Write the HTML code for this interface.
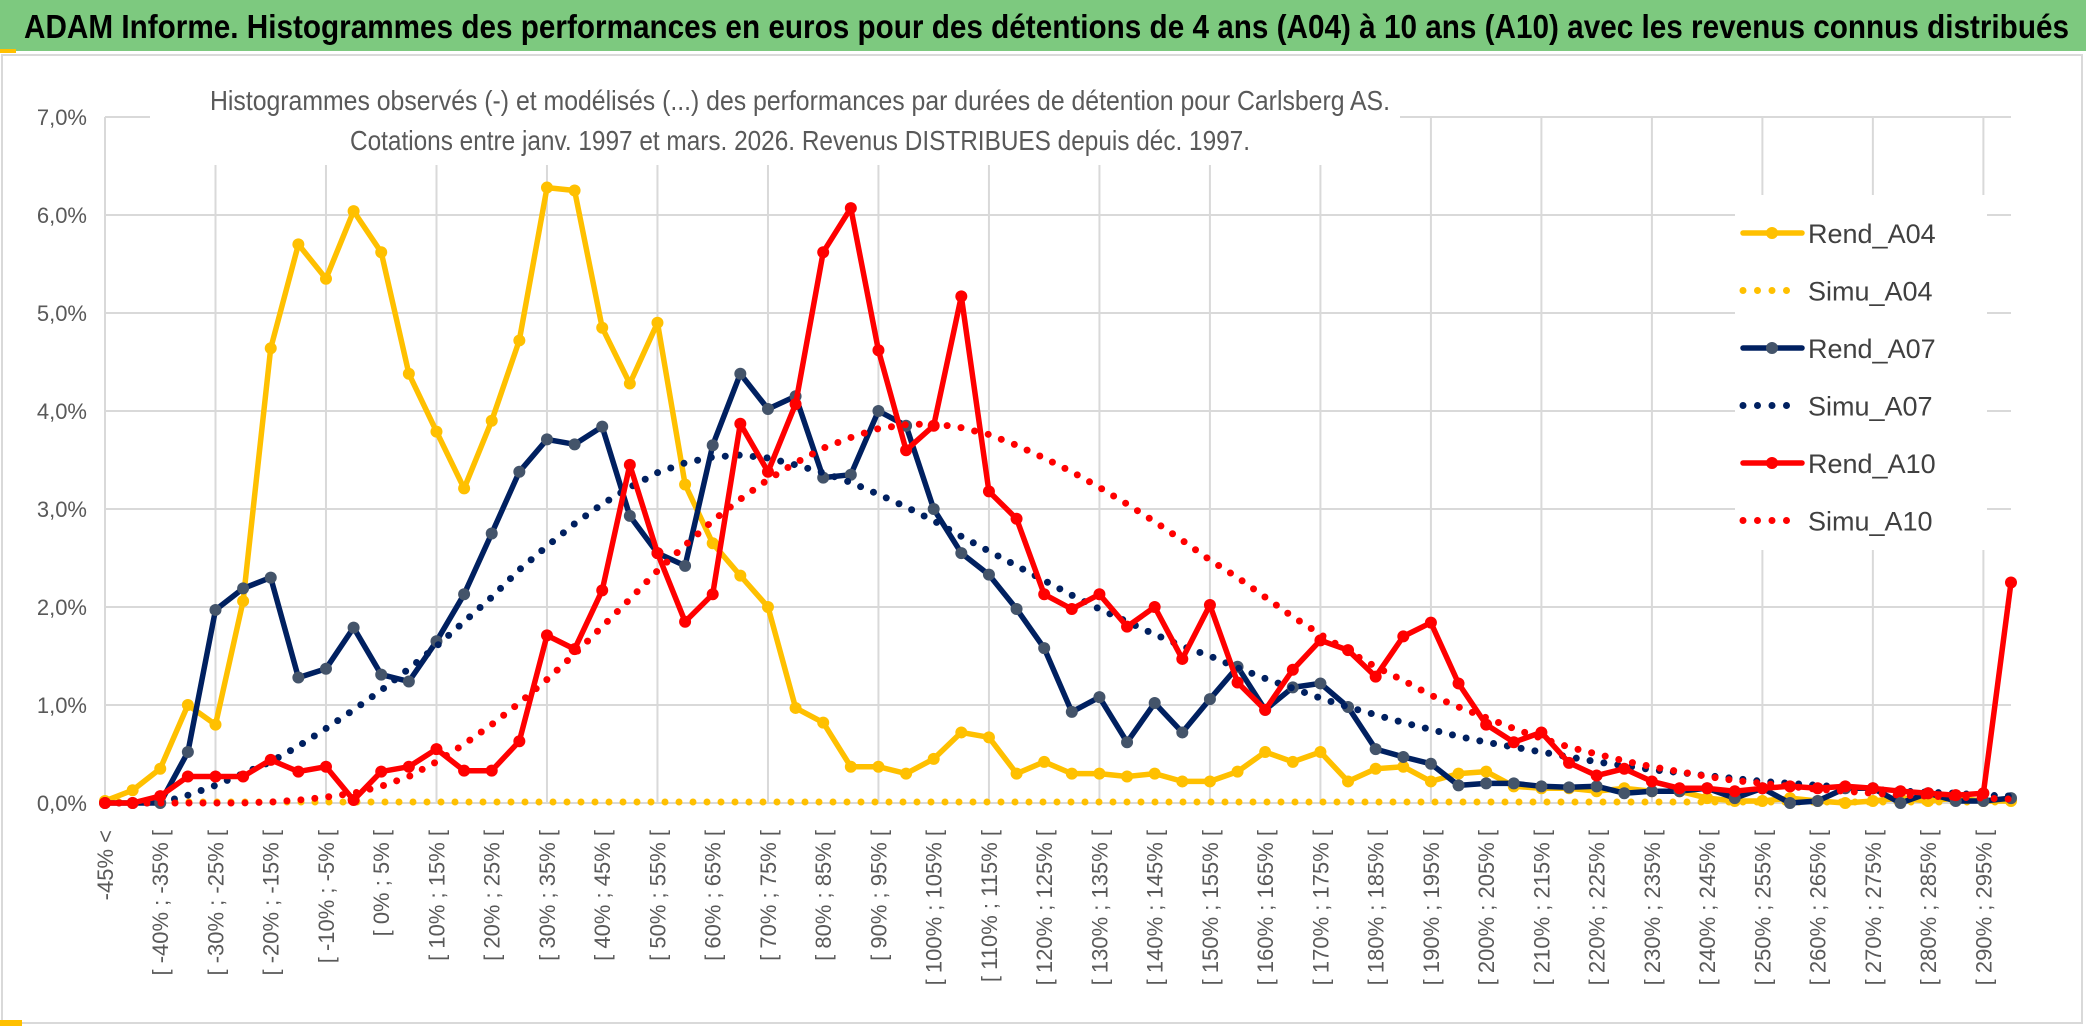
<!DOCTYPE html>
<html><head><meta charset="utf-8"><style>
html,body{margin:0;padding:0;background:#fff;}
svg{display:block;font-family:"Liberation Sans",sans-serif;}
</style></head><body>
<svg id="chart" width="2086" height="1031" viewBox="0 0 2086 1031" xmlns="http://www.w3.org/2000/svg">
<rect x="0" y="0" width="2086" height="1031" fill="#fff"/>
<rect x="0" y="0" width="2086" height="51" fill="#7dc97f"/>
<rect x="0" y="49" width="16" height="4" fill="#ffc000"/>
<text x="24" y="38" font-size="33" font-weight="bold" fill="#000" textLength="2045" lengthAdjust="spacingAndGlyphs">ADAM Informe. Histogrammes des performances en euros pour des détentions de 4 ans (A04) à 10 ans (A10) avec les revenus connus distribués</text>
<rect x="2" y="55" width="2080" height="968" fill="none" stroke="#d9d9d9" stroke-width="2"/>
<rect x="0" y="1020" width="22" height="6" fill="#ffc000"/>
<g id="grid"></g>
<g id="ylabels"></g>
<g id="xlabels"></g>
<rect x="150" y="75" width="1250" height="90" fill="#fff"/>
<text x="800" y="110" font-size="28" fill="#595959" text-anchor="middle" textLength="1180" lengthAdjust="spacingAndGlyphs">Histogrammes observés (-) et modélisés (...) des performances par durées de détention pour Carlsberg AS.</text>
<text x="800" y="150" font-size="28" fill="#595959" text-anchor="middle" textLength="900" lengthAdjust="spacingAndGlyphs">Cotations entre janv. 1997 et mars. 2026. Revenus DISTRIBUES depuis déc. 1997.</text>
<rect x="1735" y="195" width="252" height="355" fill="#fff"/>
<g id="series"></g>
<g id="legend"></g>
</svg>
<script>
const categories = (function(){const a=["-45% <"];for(let k=1;k<70;k++){const lo=-45+5*(k-1);a.push("[ "+lo+"% ; "+(lo+5)+"% [");}return a;})();
const yTicks = [0,1,2,3,4,5,6,7];
const yTickLabels = ["0,0%","1,0%","2,0%","3,0%","4,0%","5,0%","6,0%","7,0%"];
const rendA04 = [0.02,0.13,0.35,1.0,0.8,2.06,4.64,5.7,5.35,6.04,5.62,4.38,3.79,3.21,3.9,4.72,6.28,6.25,4.85,4.28,4.9,3.25,2.65,2.32,2.0,0.97,0.82,0.37,0.37,0.3,0.45,0.72,0.67,0.3,0.42,0.3,0.3,0.27,0.3,0.22,0.22,0.32,0.52,0.42,0.52,0.22,0.35,0.37,0.22,0.3,0.32,0.17,0.15,0.15,0.12,0.15,0.12,0.12,0.05,0.02,0.02,0.05,0.02,0.0,0.02,0.05,0.02,0.05,0.02,0.02];
const simuA04 = [0.01,0.01,0.01,0.01,0.01,0.01,0.01,0.01,0.01,0.01,0.01,0.01,0.01,0.01,0.01,0.01,0.01,0.01,0.01,0.01,0.01,0.01,0.01,0.01,0.01,0.01,0.01,0.01,0.01,0.01,0.01,0.01,0.01,0.01,0.01,0.01,0.01,0.01,0.01,0.01,0.01,0.01,0.01,0.01,0.01,0.01,0.01,0.01,0.01,0.01,0.01,0.01,0.01,0.01,0.01,0.01,0.01,0.01,0.01,0.01,0.01,0.01,0.01,0.01,0.01,0.01,0.01,0.01,0.01,0.01];
const rendA07 = [0,0,0.0,0.52,1.97,2.19,2.3,1.28,1.37,1.79,1.31,1.24,1.65,2.13,2.75,3.38,3.71,3.66,3.84,2.93,2.55,2.42,3.65,4.38,4.02,4.15,3.32,3.35,4.0,3.85,3.0,2.55,2.33,1.98,1.58,0.93,1.08,0.62,1.02,0.72,1.06,1.39,0.95,1.18,1.22,0.98,0.55,0.47,0.4,0.18,0.2,0.2,0.17,0.16,0.17,0.1,0.12,0.12,0.15,0.05,0.15,0.0,0.02,0.15,0.15,0.0,0.1,0.02,0.02,0.05];
const simuA07 = [0,0,0,0.08,0.18,0.3,0.42,0.58,0.76,0.95,1.15,1.37,1.6,1.85,2.1,2.38,2.62,2.85,3.05,3.22,3.37,3.47,3.53,3.55,3.52,3.45,3.37,3.27,3.15,3.02,2.88,2.72,2.57,2.42,2.27,2.12,1.98,1.85,1.72,1.6,1.5,1.38,1.27,1.17,1.07,0.98,0.9,0.82,0.75,0.68,0.62,0.57,0.52,0.47,0.42,0.38,0.34,0.31,0.28,0.25,0.22,0.2,0.18,0.16,0.14,0.12,0.11,0.1,0.08,0.07];
const rendA10 = [0,0,0.07,0.27,0.27,0.27,0.44,0.32,0.37,0.03,0.32,0.37,0.55,0.33,0.33,0.63,1.71,1.57,2.17,3.45,2.55,1.85,2.13,3.87,3.38,4.07,5.62,6.07,4.62,3.6,3.85,5.17,3.18,2.9,2.13,1.98,2.13,1.8,2.0,1.47,2.02,1.23,0.95,1.36,1.66,1.56,1.29,1.7,1.84,1.22,0.8,0.62,0.72,0.41,0.28,0.35,0.22,0.15,0.15,0.12,0.15,0.17,0.15,0.17,0.15,0.12,0.1,0.08,0.1,2.25];
const simuA10 = [0,0,0,0,0,0,0.01,0.03,0.06,0.1,0.17,0.27,0.42,0.6,0.8,1.02,1.26,1.52,1.8,2.08,2.37,2.63,2.88,3.1,3.3,3.47,3.62,3.73,3.82,3.86,3.87,3.83,3.76,3.65,3.52,3.38,3.22,3.05,2.87,2.68,2.48,2.3,2.1,1.9,1.72,1.55,1.39,1.25,1.1,0.98,0.87,0.76,0.66,0.57,0.5,0.43,0.37,0.32,0.27,0.23,0.2,0.17,0.14,0.12,0.1,0.08,0.07,0.06,0.05,0.04];
const seriesNames = ["Rend_A04","Simu_A04","Rend_A07","Simu_A07","Rend_A10","Simu_A10"];

const NS="http://www.w3.org/2000/svg";
const X0=105, X1=2011, Y0=803, Y7=117;
function xs(i){return X0+(X1-X0)*i/(categories.length-1);}
function ys(v){return Y0-(Y0-Y7)*v/7;}
function mk(tag,attrs,parent){const e=document.createElementNS(NS,tag);for(const k in attrs)e.setAttribute(k,attrs[k]);parent.appendChild(e);return e;}

const grid=document.getElementById('grid');
yTicks.forEach(function(t){
  const l=mk('line',{x1:X0,x2:X1,y1:ys(t),y2:ys(t),stroke:'#d9d9d9','stroke-width':2},grid);
  
  
});
for(let i=0;i<categories.length;i+=4){
  const l=mk('line',{x1:xs(i),x2:xs(i),y1:Y7,y2:Y0,stroke:'#d9d9d9','stroke-width':2},grid);
  
  
}
const yl=document.getElementById('ylabels');
yTicks.forEach(function(t,j){
  const e=mk('text',{x:87,y:ys(t)+8,'font-size':22,fill:'#595959','text-anchor':'end'},yl);
  e.textContent=yTickLabels[j];
  
  
});
const xl=document.getElementById('xlabels');
for(let i=0;i<categories.length;i+=2){
  if(i===68+2)break;
  const x=xs(i)+8, y=830;
  const e=mk('text',{x:x,y:y,'font-size':22,fill:'#595959','text-anchor':'end',transform:'rotate(-90 '+x+' '+y+')'},xl);
  e.textContent=categories[i];
  
  
}

const sg=document.getElementById('series');
function pts(arr){return arr.map(function(v,i){return xs(i).toFixed(1)+','+ys(v).toFixed(1);}).join(' ');}
function solid(arr,color,mcolor,name){
  const p=mk('polyline',{points:pts(arr),fill:'none',stroke:color,'stroke-width':5.5,'stroke-linejoin':'round','stroke-linecap':'round'},sg);
  
  
  arr.forEach(function(v,i){
    const c=mk('circle',{cx:xs(i),cy:ys(v),r:6,fill:mcolor},sg);
    
    
  });
}
function dotted(arr,color,name){
  const p=mk('polyline',{points:pts(arr),fill:'none',stroke:color,'stroke-width':7,'stroke-linecap':'round','stroke-dasharray':'0 14'},sg);
  
  
}
solid(rendA04,'#ffc000','#ffc000','rend-a04');
dotted(simuA04,'#ffc000','simu-a04');
solid(rendA07,'#002060','#44546a','rend-a07');
dotted(simuA07,'#002060','simu-a07');
solid(rendA10,'#ff0000','#ff0000','rend-a10');
dotted(simuA10,'#ff0000','simu-a10');

const lg=document.getElementById('legend');
const lcol=['#ffc000','#ffc000','#002060','#002060','#ff0000','#ff0000'];
const lmk=['#ffc000',null,'#44546a',null,'#ff0000',null];
seriesNames.forEach(function(n,j){
  const y=233+j*57.5;
  let ln;
  if(lmk[j]){
    ln=mk('line',{x1:1743,x2:1802,y1:y,y2:y,stroke:lcol[j],'stroke-width':5.5,'stroke-linecap':'round'},lg);
    const c=mk('circle',{cx:1772,cy:y,r:6,fill:lmk[j]},lg);
    
    
  } else {
    ln=mk('line',{x1:1743,x2:(j===5?1800:1790),y1:y,y2:y,stroke:lcol[j],'stroke-width':7,'stroke-linecap':'round','stroke-dasharray':'0 14.5'},lg);
  }
  
  
  const t=mk('text',{x:1808,y:y+10,'font-size':27,fill:'#404040'},lg);
  t.textContent=n;
  
  
});
</script>
</body></html>
